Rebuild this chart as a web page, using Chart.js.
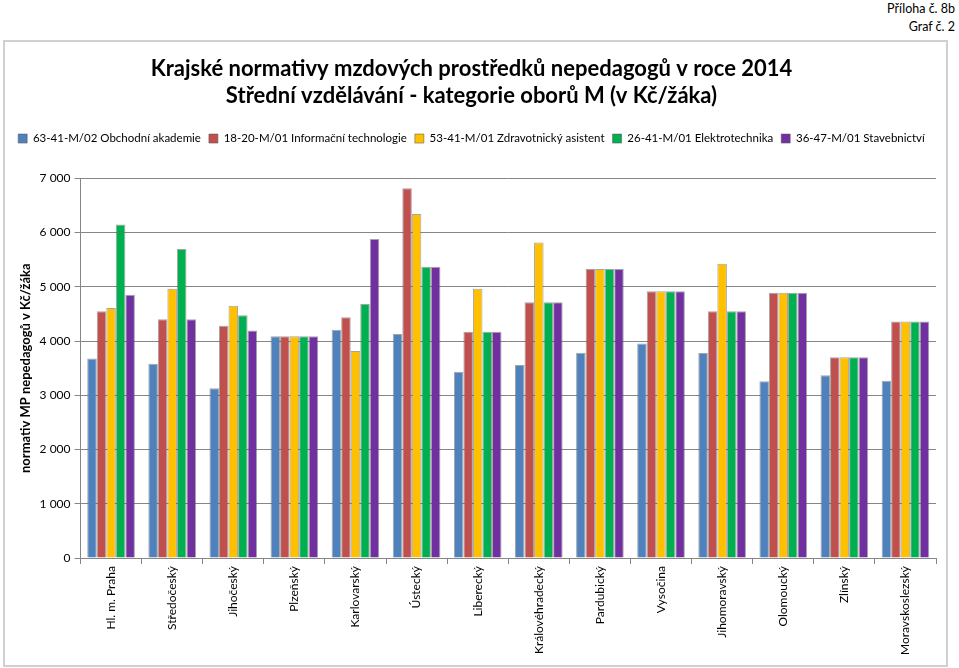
<!DOCTYPE html>
<html>
<head>
<meta charset="utf-8">
<script src="https://cdn.jsdelivr.net/npm/chart.js@4.4.1/dist/chart.umd.min.js"></script>
<style>
  body { margin: 0; background: #fff; width: 959px; height: 668px; position: relative; overflow: hidden; }
  .note { position: absolute; right: 4px; font-family: Lato, sans-serif; font-size: 12.5px; color: #000; }
  #frame { position: absolute; left: 3px; top: 40px; width: 941px; height: 623px; border: 2px solid #d0d0d0; }
</style>
</head>
<body>
<div class="note" style="top:1px;">Příloha č. 8b</div>
<div class="note" style="top:19px;">Graf č. 2</div>
<div id="frame"><canvas id="normChart" width="941" height="623"></canvas></div>
<script>
const regions = ["Hl. m. Praha", "Středočeský", "Jihočeský", "Plzeňský", "Karlovarský", "Ústecký",
  "Liberecký", "Královéhradecký", "Pardubický", "Vysočina", "Jihomoravský", "Olomoucký",
  "Zlínský", "Moravskoslezský"];

const obchodniAkademie = [3680, 3580, 3130, 4090, 4210, 4130, 3435, 3560, 3785, 3955, 3780, 3260, 3370, 3270];
const informacniTechnologie = [4550, 4400, 4280, 4090, 4440, 6815, 4170, 4715, 5330, 4920, 4550, 4890, 3700, 4360];
const zdravotnickyAsistent = [4610, 4965, 4650, 4090, 3815, 6340, 4965, 5815, 5330, 4920, 5425, 4890, 3700, 4360];
const elektrotechnika = [6150, 5695, 4475, 4090, 4685, 5370, 4170, 4715, 5330, 4920, 4550, 4890, 3700, 4360];
const stavebnictvi = [4855, 4400, 4195, 4090, 5880, 5370, 4170, 4715, 5330, 4920, 4550, 4890, 3700, 4360];

const yTicks = [0, 1000, 2000, 3000, 4000, 5000, 6000, 7000];

const fmt = v => String(v).replace(/\B(?=(\d{3})+(?!\d))/g, " ");
const edge = "rgba(90,90,90,0.55)";

// extra room under the legend, like the spreadsheet original
const legendGap = {
  id: "legendGap",
  beforeInit(chart) {
    const fit = chart.legend.fit;
    chart.legend.fit = function () {
      fit.bind(chart.legend)();
      this.height += 24;
    };
  }
};

new Chart(document.getElementById("normChart"), {
  type: "bar",
  data: {
    labels: regions,
    datasets: [
      { label: "63-41-M/02 Obchodní akademie", data: obchodniAkademie, backgroundColor: "#4F81BD" },
      { label: "18-20-M/01 Informační technologie", data: informacniTechnologie, backgroundColor: "#C0504D" },
      { label: "53-41-M/01 Zdravotnický asistent", data: zdravotnickyAsistent, backgroundColor: "#FFC000" },
      { label: "26-41-M/01 Elektrotechnika", data: elektrotechnika, backgroundColor: "#00B050" },
      { label: "36-47-M/01 Stavebnictví", data: stavebnictvi, backgroundColor: "#7030A0" }
    ].map(d => Object.assign(d, { borderColor: edge, borderWidth: 1, categoryPercentage: 0.78, barPercentage: 1 }))
  },
  plugins: [legendGap],
  options: {
    responsive: false,
    animation: false,
    layout: { padding: { left: 2, right: 10, top: 0, bottom: 8 } },
    plugins: {
      title: {
        display: true,
        text: ["Krajské normativy mzdových prostředků nepedagogů v roce 2014",
               "Střední vzdělávání - kategorie oborů M (v Kč/žáka)"],
        font: { family: "Lato", size: 22, weight: "bold" },
        color: "#000",
        lineHeight: 1.36,
        padding: { top: 14, bottom: 16 }
      },
      legend: {
        position: "top",
        labels: {
          font: { family: "Lato", size: 11.5 },
          color: "#000",
          boxWidth: 9,
          boxHeight: 9,
          padding: 8
        }
      },
      tooltip: { enabled: false }
    },
    scales: {
      x: {
        grid: { display: true, drawOnChartArea: false, color: "#868686", tickLength: 6 },
        border: { display: true, color: "#868686" },
        ticks: {
          minRotation: 90, maxRotation: 90, padding: 2, autoSkip: false,
          font: { family: "Lato", size: 12 }, color: "#000"
        }
      },
      y: {
        min: 0, max: 7000,
        afterBuildTicks: axis => { axis.ticks = yTicks.map(v => ({ value: v })); },
        grid: { color: "#868686", tickLength: 6 },
        border: { display: true, color: "#868686" },
        ticks: { callback: v => fmt(v), font: { family: "Lato", size: 12 }, color: "#000", padding: 4 },
        title: {
          display: true,
          text: "normativ MP nepedagogů v Kč/žáka",
          font: { family: "Lato", size: 13, weight: "bold" },
          color: "#000",
          padding: { top: 11, bottom: 2 }
        }
      }
    }
  }
});
</script>
</body>
</html>
